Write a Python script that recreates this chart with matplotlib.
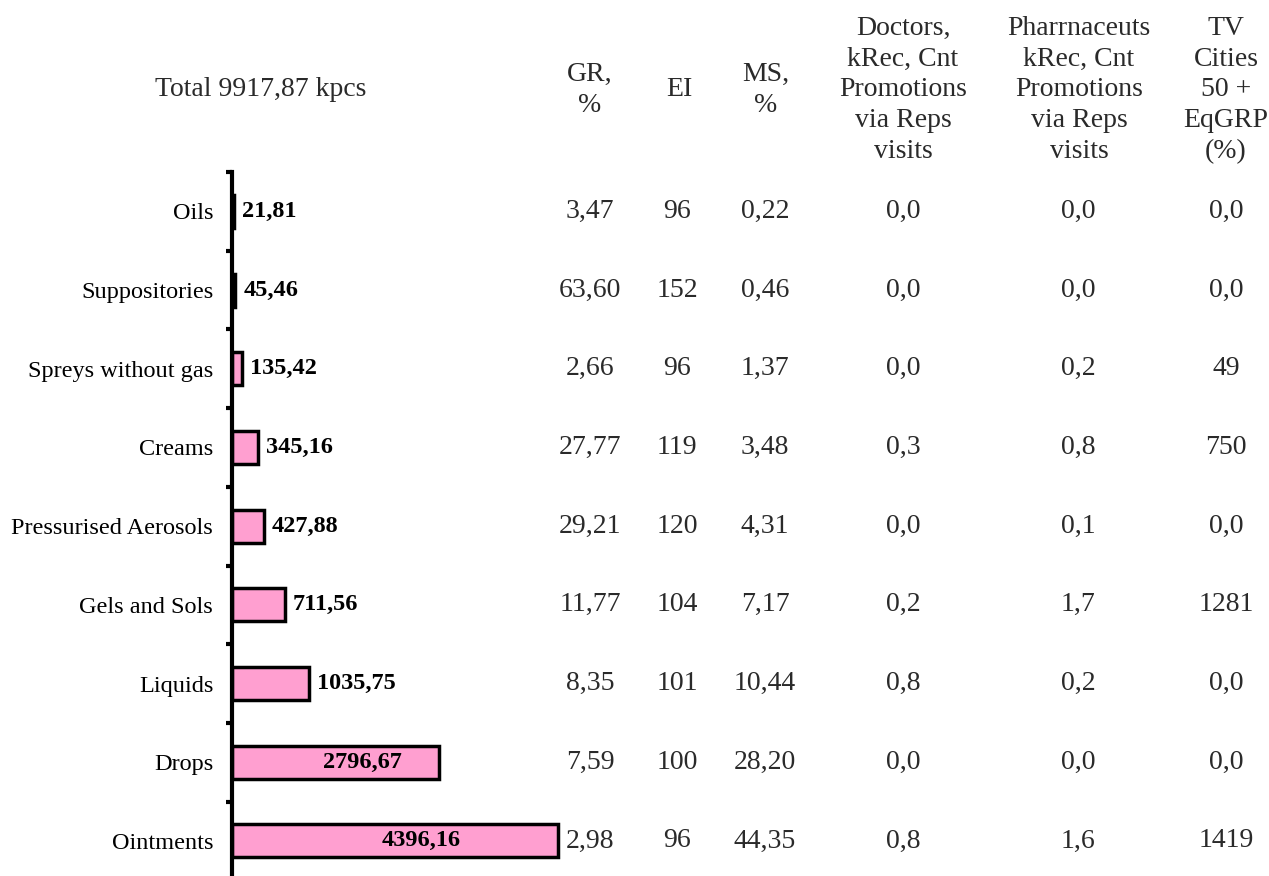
import numpy as np
import matplotlib
matplotlib.use('Agg')
import matplotlib.pyplot as plt
from matplotlib.transforms import blended_transform_factory

# data
categories = ['Oils', 'Suppositories', 'Spreys without gas', 'Creams',
              'Pressurised Aerosols', 'Gels and Sols', 'Liquids', 'Drops', 'Ointments']
volume = [21.81, 45.46, 135.42, 345.16, 427.88, 711.56, 1035.75, 2796.67, 4396.16]
gr = ['3,47', '63,60', '2,66', '27,77', '29,21', '11,77', '8,35', '7,59', '2,98']
ei = ['96', '152', '96', '119', '120', '104', '101', '100', '96']
ms = ['0,22', '0,46', '1,37', '3,48', '4,31', '7,17', '10,44', '28,20', '44,35']
doctors = ['0,0', '0,0', '0,0', '0,3', '0,0', '0,2', '0,8', '0,0', '0,8']
pharm = ['0,0', '0,0', '0,2', '0,8', '0,1', '1,7', '0,2', '0,0', '1,6']
tv = ['0,0', '0,0', '49', '750', '0,0', '1281', '0,0', '0,0', '1419']

headers = ['Total 9917,87 kpcs', 'GR,\n%', 'EI', 'MS,\n%',
           'Doctors,\nkRec, Cnt\nPromotions\nvia Reps\nvisits',
           'Pharrnaceuts\nkRec, Cnt\nPromotions\nvia Reps\nvisits',
           'TV\nCities\n50 +\nEqGRP\n(%)']

plt.rcParams['font.family'] = ['Liberation Serif', 'DejaVu Serif']
fs_cat = 17.5   # category names and bar labels
fs_tab = 20     # table columns and headers

W, H = 1269, 876
fig = plt.figure(figsize=(W / 100, H / 100), dpi=100)

# axis spine at x=232px, top at 172px, 9 slots of ~78.7px
left = 232 / W
top = 1 - 172 / H
bottom = 1 - (172 + 9 * 78.7) / H
ax = fig.add_axes([left, bottom, 370 / W, top - bottom])

y = np.arange(len(categories))
ax.barh(y, volume, height=0.42, color='#ff9fd0', edgecolor='black', linewidth=2.5, zorder=2)
ax.set_xlim(0, 370 * 13.5)
ax.set_ylim(len(categories) - 0.5, -0.5)

for s in ['top', 'right', 'bottom']:
    ax.spines[s].set_visible(False)
ax.spines['left'].set_linewidth(3)
ax.set_xticks([])
ax.set_yticks(np.arange(-0.5, len(categories), 1.0))
ax.set_yticklabels([])
ax.set_yticks(y, minor=True)
ax.set_yticklabels(categories, minor=True, fontsize=fs_cat)
ax.tick_params(axis='y', which='major', length=4, width=3, direction='out')
ax.tick_params(axis='y', which='minor', length=0, pad=13.5)

# value labels: inside the long bars, just past the end of the short ones
for i, v in enumerate(volume):
    label = f'{v:.2f}'.replace('.', ',')
    if v > 2000:
        ax.annotate(label, (v / 2, i), xytext=(19, 0), textcoords='offset points',
                    ha='center', va='center', fontsize=fs_cat, fontweight='bold')
    else:
        ax.annotate(label, (v, i), xytext=(6, 0), textcoords='offset points',
                    ha='left', va='center', fontsize=fs_cat, fontweight='bold')

# table columns
tr = blended_transform_factory(fig.transFigure, ax.transData)
col_x = [590, 677, 765, 903, 1078, 1226]
for cx, col in zip(col_x, [gr, ei, ms, doctors, pharm, tv]):
    for i, s in enumerate(col):
        ax.text(cx / W, i, s, transform=tr, ha='center', va='center', fontsize=fs_tab, color='#2a2a2a')

head_x = [261, 590, 679, 766, 903, 1079, 1226]
for hx, h in zip(head_x, headers):
    fig.text(hx / W, 1 - 90 / H, h, ha='center', va='center', fontsize=fs_tab,
             linespacing=1.3, color='#2a2a2a')

fig.savefig('out.png', dpi=100)
